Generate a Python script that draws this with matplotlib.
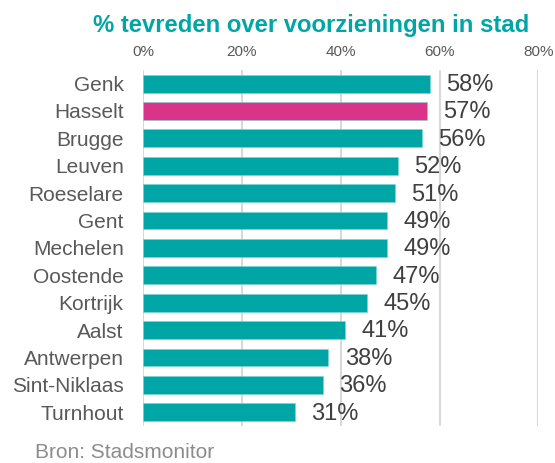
import matplotlib.pyplot as plt

# data
steden = ["Genk", "Hasselt", "Brugge", "Leuven", "Roeselare", "Gent", "Mechelen",
          "Oostende", "Kortrijk", "Aalst", "Antwerpen", "Sint-Niklaas", "Turnhout"]
waarden = [58.1, 57.5, 56.4, 51.6, 50.9, 49.3, 49.3, 47.2, 45.4, 40.9, 37.5, 36.4, 30.7]
labels = ["58%", "57%", "56%", "52%", "51%", "49%", "49%", "47%", "45%", "41%", "38%", "36%", "31%"]
x_ticks = [0, 20, 40, 60, 80]
x_ticklabels = ["0%", "20%", "40%", "60%", "80%"]

teal = "#00a6a6"
roze = "#d9338a"
plt.rcParams['font.family'] = ['Liberation Sans', 'DejaVu Sans']

fig = plt.figure(figsize=(5.55, 4.63), dpi=100)
ax = fig.add_axes([0.258, 0.080, 0.712, 0.769])

kleuren = [roze if s == "Hasselt" else teal for s in steden]
ypos = list(range(len(steden)))
ax.barh(ypos, waarden, height=0.65, color=kleuren, edgecolor="#7fd3d3", linewidth=0.4, zorder=2)

for y, w, lab in zip(ypos, waarden, labels):
    ax.text(w + 3.3, y + 0.05, lab, va="center", ha="left", fontsize=17, color="#404040")

ax.set_xlim(0, 80)
ax.set_ylim(len(steden) - 0.5, -0.5)
ax.set_yticks(ypos)
ax.set_yticklabels(steden, fontsize=15, color="#595959")
ax.set_xticks(x_ticks)
ax.set_xticklabels(x_ticklabels, fontsize=11, color="#595959")
ax.xaxis.tick_top()
ax.tick_params(axis="both", length=0)
ax.tick_params(axis="y", pad=14)
ax.tick_params(axis="x", pad=8)
ax.grid(axis="x", color="#d9d9d9", linewidth=1.5, zorder=0)
for s in ax.spines.values():
    s.set_visible(False)

fig.text(0.560, 0.946, "% tevreden over voorzieningen in stad", ha="center", va="center",
         fontsize=17.2, fontweight="bold", color=teal)
fig.text(0.063, 0.023, "Bron: Stadsmonitor", ha="left", va="center", fontsize=15, color="#8c8c8c")

fig.savefig("out.png", dpi=100)
